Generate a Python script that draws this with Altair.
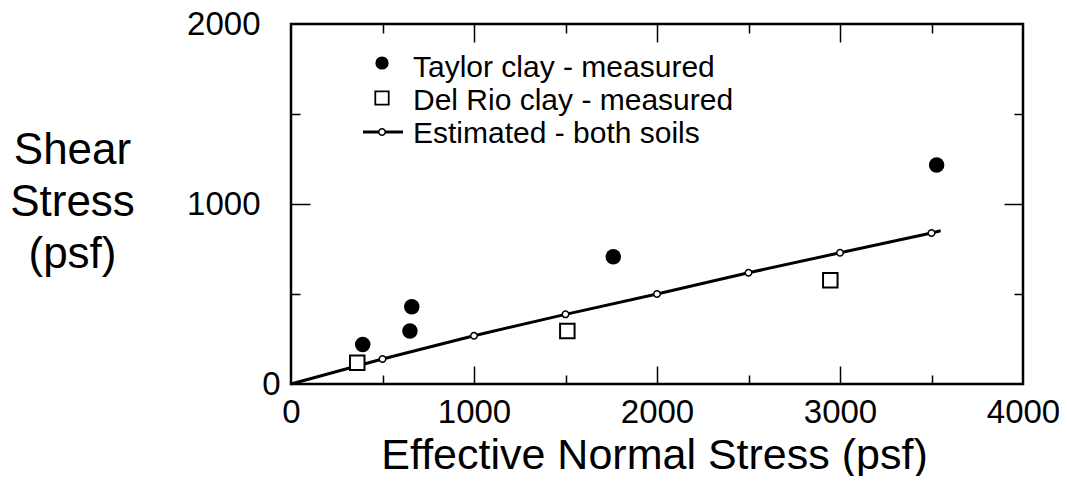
import altair as alt
import pandas as pd

# ---- data ----
taylor_x = [392, 660, 650, 1761, 3528]
taylor_y = [220, 429, 294, 707, 1217]
delrio_x = [362, 1510, 2947]
delrio_y = [118, 294, 576]
est_x = [0, 500, 1000, 1500, 2000, 2500, 3000, 3500]
est_y = [0, 139, 268, 387, 500, 618, 729, 839]
est_line_end_x = [3550]
est_line_end_y = [851]
legend_labels = ["Taylor clay - measured", "Del Rio clay - measured", "Estimated - both soils"]
x_label_values = [0, 1000, 2000, 3000, 4000]
y_label_values = [0, 1000, 2000]
x_major = [1000, 2000, 3000]
x_minor = [500, 1500, 2500, 3500]
y_major = [1000]
y_minor = [500, 1500]

W, H = 732, 360
FONT = "Liberation Sans"

taylor = pd.DataFrame({"x": taylor_x, "y": taylor_y})
delrio = pd.DataFrame({"x": delrio_x, "y": delrio_y})
est_pts = pd.DataFrame({"x": est_x, "y": est_y})
est_line = pd.DataFrame({"x": est_x + est_line_end_x, "y": est_y + est_line_end_y})
est_markers = est_pts[est_pts["x"] > 0]

xs = alt.Scale(domain=[0, 4000], nice=False, zero=False)
ys = alt.Scale(domain=[0, 2000], nice=False, zero=False)


def tick_axis(orient, values, size):
    return alt.Axis(orient=orient, values=values, ticks=True, tickSize=size,
                    offset=-size, labels=False, domain=False, grid=False,
                    title=None, tickColor="black", tickWidth=1.5)


x_main = alt.Axis(orient="bottom", values=x_label_values, format="d", ticks=False,
                  tickSize=0, domain=False, grid=False, labelFont=FONT,
                  labelFontSize=33, labelColor="black", labelPadding=12,
                  labelFlush=False, labelOverlap=False,
                  title="Effective Normal Stress (psf)", titleFont=FONT,
                  titleFontSize=43, titleFontWeight="normal", titleColor="black",
                  titleX=363, titleY=84, titleAlign="center",
                  titleBaseline="alphabetic")
y_main = alt.Axis(orient="left", values=y_label_values, format="d", ticks=False,
                  tickSize=0, domain=False, grid=False, labelFont=FONT,
                  labelFontSize=33, labelColor="black",
                  labelPadding={"condition": {"test": "datum.value === 0", "value": 11},
                                "value": 31},
                  labelFlush=False, labelOverlap=False,
                  title=["Shear", "Stress", "(psf)"], titleFont=FONT,
                  titleFontSize=44, titleFontWeight="normal", titleColor="black",
                  titleAngle=0, titleX=-219, titleY=139, titleAlign="center",
                  titleBaseline="alphabetic", titleLineHeight=52)

taylor_layer = alt.Chart(taylor).mark_point(
    shape="circle", filled=True, color="black", size=240, opacity=1
).encode(
    x=alt.X("x:Q", scale=xs, axis=x_main),
    y=alt.Y("y:Q", scale=ys, axis=y_main),
)

delrio_layer = alt.Chart(delrio).mark_point(
    shape="square", filled=True, fill="white", stroke="black", strokeWidth=2,
    size=210, opacity=1
).encode(
    x=alt.X("x:Q", scale=xs, axis=tick_axis("bottom", x_major, 18)),
    y=alt.Y("y:Q", scale=ys, axis=tick_axis("left", y_major, 19)),
)

line_layer = alt.Chart(est_line).mark_line(color="black", strokeWidth=3).encode(
    x=alt.X("x:Q", scale=xs, axis=tick_axis("bottom", x_minor, 9)),
    y=alt.Y("y:Q", scale=ys, axis=tick_axis("left", y_minor, 9)),
)

marker_layer = alt.Chart(est_markers).mark_point(
    shape="circle", filled=True, fill="white", stroke="black", strokeWidth=1.5,
    size=42, opacity=1
).encode(
    x=alt.X("x:Q", scale=xs, axis=tick_axis("top", x_major, 18)),
    y=alt.Y("y:Q", scale=ys, axis=tick_axis("right", y_major, 19)),
)

tick_layer = alt.Chart(est_markers).mark_point(opacity=0).encode(
    x=alt.X("x:Q", scale=xs, axis=tick_axis("top", x_minor, 9)),
    y=alt.Y("y:Q", scale=ys, axis=tick_axis("right", y_minor, 9)),
)

# ---- legend (drawn inside the plot, top-left) ----
leg_sym_x = 91
leg_text_x = 122
leg1 = alt.Chart(pd.DataFrame({"label": [legend_labels[0]]}))
leg2 = alt.Chart(pd.DataFrame({"label": [legend_labels[1]]}))
leg3 = alt.Chart(pd.DataFrame({"label": [legend_labels[2]]}))

legend_layers = [
    leg1.mark_point(shape="circle", filled=True, color="black", size=175, opacity=1)
        .encode(x=alt.value(leg_sym_x), y=alt.value(39)),
    leg2.mark_point(shape="square", filled=True, fill="white", stroke="black",
                    strokeWidth=1.8, size=180, opacity=1)
        .encode(x=alt.value(leg_sym_x), y=alt.value(74)),
    leg3.mark_rule(color="black", strokeWidth=3)
        .encode(x=alt.value(72), x2=alt.value(112), y=alt.value(108)),
    leg3.mark_point(shape="circle", filled=True, fill="white", stroke="black",
                    strokeWidth=1.5, size=42, opacity=1)
        .encode(x=alt.value(leg_sym_x), y=alt.value(108)),
]
for i, lg in enumerate([leg1, leg2, leg3]):
    legend_layers.append(
        lg.mark_text(align="left", baseline="alphabetic", font=FONT, fontSize=30,
                     color="black")
        .encode(x=alt.value(leg_text_x), y=alt.value(53 + 33 * i), text="label:N")
    )

chart = alt.layer(
    line_layer, marker_layer, delrio_layer, taylor_layer, tick_layer, *legend_layers
).resolve_axis(
    x="independent", y="independent"
).properties(
    width=W, height=H,
    autosize=alt.AutoSizeParams(type="none"),
    padding={"left": 283, "top": 16, "right": 36, "bottom": 92},
    background="white",
).configure_view(stroke="black", strokeWidth=2.5)

chart.save("out.html", embed_options={"renderer": "svg", "actions": False})
